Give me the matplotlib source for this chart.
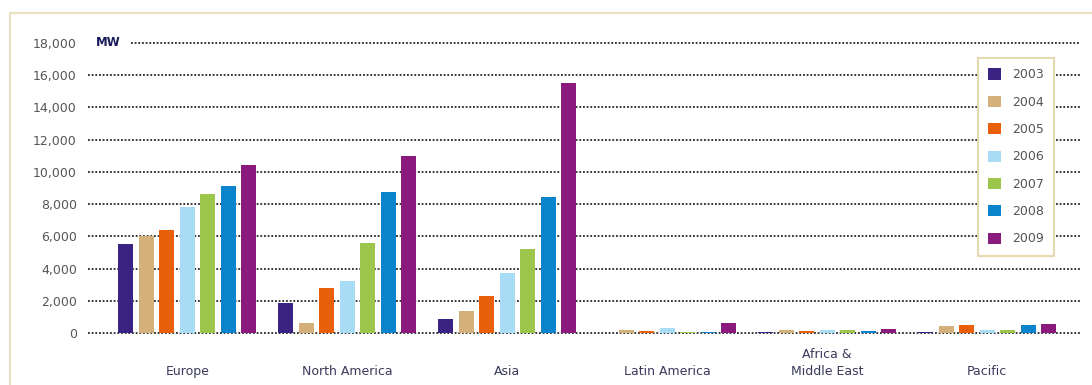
import numpy as np
import matplotlib
matplotlib.use('Agg')
import matplotlib.pyplot as plt
from matplotlib.lines import Line2D

regions = ['Europe', 'North America', 'Asia', 'Latin America', 'Africa &\nMiddle East', 'Pacific']
years = ['2003', '2004', '2005', '2006', '2007', '2008', '2009']

# MW installed per year, one list per year, regions in order above
mw_2003 = [5500, 1850, 870, 30, 50, 50]
mw_2004 = [6000, 600, 1350, 200, 200, 450]
mw_2005 = [6400, 2800, 2300, 100, 100, 500]
mw_2006 = [7800, 3200, 3750, 330, 180, 200]
mw_2007 = [8600, 5600, 5200, 50, 180, 200]
mw_2008 = [9100, 8750, 8450, 80, 100, 480]
mw_2009 = [10400, 11000, 15500, 600, 250, 550]

yticks = [0, 2000, 4000, 6000, 8000, 10000, 12000, 14000, 16000, 18000]

series = [mw_2003, mw_2004, mw_2005, mw_2006, mw_2007, mw_2008, mw_2009]
colors = ['#3a2383', '#d4b07a', '#e8600a', '#a8dcf5', '#9cc64b', '#0a84cc', '#8b1a7e']

fig = plt.figure(figsize=(10.92, 3.85), dpi=100)
W, H = 1092, 385
ax = fig.add_axes([88 / W, 1 - 333 / H, (1080 - 88) / W, (333 - 43) / H])

x = np.arange(len(regions))
pitch = 0.128
width = 0.094
for i, (vals, c) in enumerate(zip(series, colors)):
    ax.bar(x + (i - 3) * pitch, vals, width, color=c, label=years[i], zorder=3)

xmin, xmax = -0.62, 5.58
ax.set_xlim(xmin, xmax)
ax.set_ylim(0, 18000)
ax.set_yticks(yticks)
ax.set_yticklabels([f'{v:,}' for v in yticks], fontsize=9, color='#555555')
ax.tick_params(axis='y', length=0, pad=8)
ax.set_xticks([])
for s in ax.spines.values():
    s.set_visible(False)

# dotted gridlines; the top one starts after the "MW" unit label
for v in yticks:
    start = -0.35 if v == yticks[-1] else xmin
    ax.hlines(v, start, xmax, colors='black', linestyles=(0, (1.2, 1.2)), lw=1.1,
              zorder=1, clip_on=False)

ax.text(-0.57, 18000, 'MW', fontsize=8.5, color='#1a1a5a', weight='bold',
        va='center', ha='left', zorder=5)

for xi, name in zip(x, regions):
    ax.text(xi, -0.155, name, transform=ax.get_xaxis_transform(), ha='center',
            va='bottom', fontsize=9, color='#3a3a5a', linespacing=1.4)

leg = fig.legend(loc='upper left', bbox_to_anchor=(972 / W, 1 - 52 / H),
                 fontsize=9, handlelength=1.0, handleheight=1.0, labelspacing=1.15,
                 handletextpad=0.9, borderpad=0.8, fancybox=False,
                 edgecolor='#e3d9ad', framealpha=1)
for t in leg.get_texts():
    t.set_color('#555555')
leg.get_frame().set_linewidth(1.5)

# light beige outer frame
fig.add_artist(Line2D([10 / W, 10 / W, 1], [0, 1 - 13 / H, 1 - 13 / H],
                      color='#e8e0c0', lw=1.5, transform=fig.transFigure))

fig.savefig('out.png', dpi=100)
